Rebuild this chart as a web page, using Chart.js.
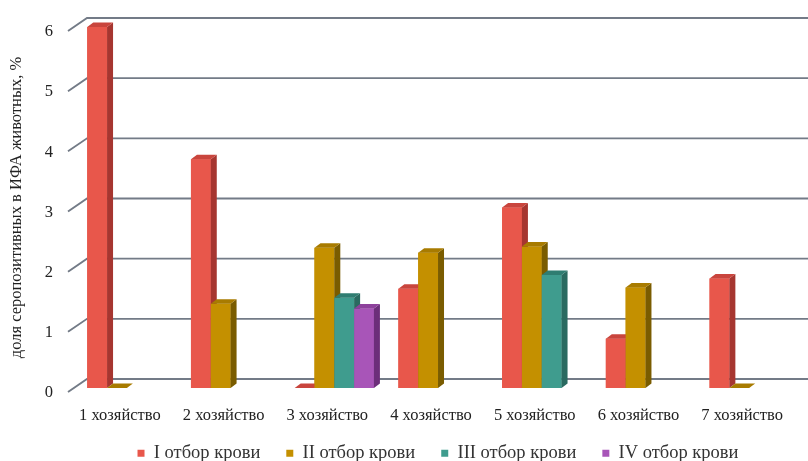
<!DOCTYPE html>
<html>
<head>
<meta charset="utf-8">
<script src="https://cdn.jsdelivr.net/npm/chart.js@4.4.1/dist/chart.umd.min.js"></script>
<style>
  html, body { margin: 0; padding: 0; background: #fff; }
  #wrap { width: 808px; height: 461px; }
</style>
</head>
<body>
<div id="wrap"><canvas id="chart" width="808" height="461"></canvas></div>
<script>
// данные
const farms = ['1 хозяйство', '2 хозяйство', '3 хозяйство', '4 хозяйство', '5 хозяйство', '6 хозяйство', '7 хозяйство'];
const sample1 = [6.0, 3.8, 0, 1.65, 3.0, 0.82, 1.82];
const sample2 = [0, 1.4, 2.33, 2.25, 2.35, 1.67, 0];
const sample3 = [null, null, 1.5, null, 1.88, null, null];
const sample4 = [null, null, 1.32, null, null, null, null];
const seriesNames = ['I отбор крови', 'II отбор крови', 'III отбор крови', 'IV отбор крови'];
const yTicks = [0, 1, 2, 3, 4, 5, 6];

// цвета граней: передняя, верх, бок
const faces = [
    { front: '#E8574B', top: '#C9453D', side: '#A63630' },
    { front: '#C49000', top: '#A87B00', side: '#7A5C00' },
    { front: '#3F9C8E', top: '#2F7D71', side: '#2A6A60' },
    { front: '#A855B8', top: '#8D419B', side: '#6C2E7A' }
];
const DX = 6, DY = -4.5;        // глубина столбика
const WALL_DX = 19, WALL_DY = -13; // глубина стенки

const serif = 'Liberation Serif, Times New Roman, serif';

// задняя стенка с линиями сетки
const wallGrid = {
    id: 'wallGrid',
    beforeDatasetsDraw(chart) {
        const ctx = chart.ctx;
        const y = chart.scales.y;
        ctx.save();
        ctx.strokeStyle = '#737B87';
        ctx.lineWidth = 1.9;
        yTicks.forEach(v => {
            const yb = y.getPixelForValue(v) - 9;
            ctx.beginPath();
            ctx.moveTo(68, yb - WALL_DY);
            ctx.lineTo(68 + WALL_DX, yb);
            ctx.lineTo(chart.width, yb);
            ctx.stroke();
        });
        ctx.restore();
    }
};

// объёмные грани столбиков (в порядке слева направо)
const bars3d = {
    id: 'bars3d',
    afterDatasetsDraw(chart) {
        const ctx = chart.ctx;
        ctx.save();
        farms.forEach((_, i) => {
            chart.data.datasets.forEach((ds, d) => {
                const v = ds.data[i];
                if (v === null || v === undefined) return;
                const el = chart.getDatasetMeta(d).data[i];
                const p = el.getProps(['x', 'y', 'base', 'width'], true);
                const l = p.x - p.width / 2, r = p.x + p.width / 2;
                const c = faces[d];
                if (v > 0) {
                    ctx.fillStyle = c.front;
                    ctx.fillRect(l, p.y, p.width, p.base - p.y);
                    ctx.fillStyle = c.side;
                    ctx.beginPath();
                    ctx.moveTo(r, p.y);
                    ctx.lineTo(r + DX, p.y + DY);
                    ctx.lineTo(r + DX, p.base + DY);
                    ctx.lineTo(r, p.base);
                    ctx.closePath();
                    ctx.fill();
                }
                ctx.fillStyle = c.top;
                ctx.beginPath();
                ctx.moveTo(l, p.y);
                ctx.lineTo(l + DX, p.y + DY);
                ctx.lineTo(r + DX, p.y + DY);
                ctx.lineTo(r, p.y);
                ctx.closePath();
                ctx.fill();
            });
        });
        ctx.restore();
    }
};

// легенда: фиксированная высота и сдвиг, как на исходном рисунке
const legendPlace = {
    id: 'legendPlace',
    beforeLayout(chart) {
        const lg = chart.legend;
        if (lg && !lg._fitPatched) {
            const fit = lg.fit;
            lg.fit = function () { fit.call(this); this.height = 35; };
            lg._fitPatched = true;
        }
    },
    afterLayout(chart) {
        const lg = chart.legend;
        if (!lg) return;
        lg.left += 34;
        lg.right += 34;
        lg.top = 418;
        lg.bottom = 461;
    }
};

const samples = [sample1, sample2, sample3, sample4];

new Chart(document.getElementById('chart'), {
    type: 'bar',
    data: {
        labels: farms,
        datasets: samples.map((data, d) => ({
            label: seriesNames[d],
            data: data,
            backgroundColor: faces[d].front,
            borderWidth: 0,
            barPercentage: 1,
            categoryPercentage: 0.764
        }))
    },
    plugins: [wallGrid, bars3d, legendPlace],
    options: {
        responsive: false,
        animation: false,
        layout: { padding: { top: 27, left: 0, right: 0, bottom: 0 } },
        scales: {
            x: {
                grid: { display: false, drawTicks: false },
                border: { display: false },
                ticks: {
                    font: { family: serif, size: 16.5 },
                    color: '#222',
                    labelOffset: -7,
                    padding: 18,
                    maxRotation: 0
                },
                afterFit: s => { s.height = 38; }
            },
            y: {
                min: 0,
                max: 6,
                grid: { display: false, drawTicks: false },
                border: { display: false },
                ticks: {
                    stepSize: 1,
                    font: { family: serif, size: 16.5 },
                    color: '#222',
                    padding: 22,
                    labelOffset: 5
                },
                title: {
                    display: true,
                    text: 'доля серопозитивных в ИФА животных, %',
                    font: { family: serif, size: 16.5 },
                    color: '#222',
                    padding: { top: 7, bottom: 0 }
                },
                afterFit: s => {
                    s.width = 75;
                    s.paddingTop = 8;
                    s.paddingBottom = 8;
                }
            }
        },
        plugins: {
            legend: {
                position: 'bottom',
                labels: {
                    boxWidth: 7,
                    boxHeight: 7,
                    padding: 26,
                    font: { family: serif, size: 18.5 },
                    color: '#333'
                }
            },
            tooltip: { enabled: false }
        }
    }
});
</script>
</body>
</html>
